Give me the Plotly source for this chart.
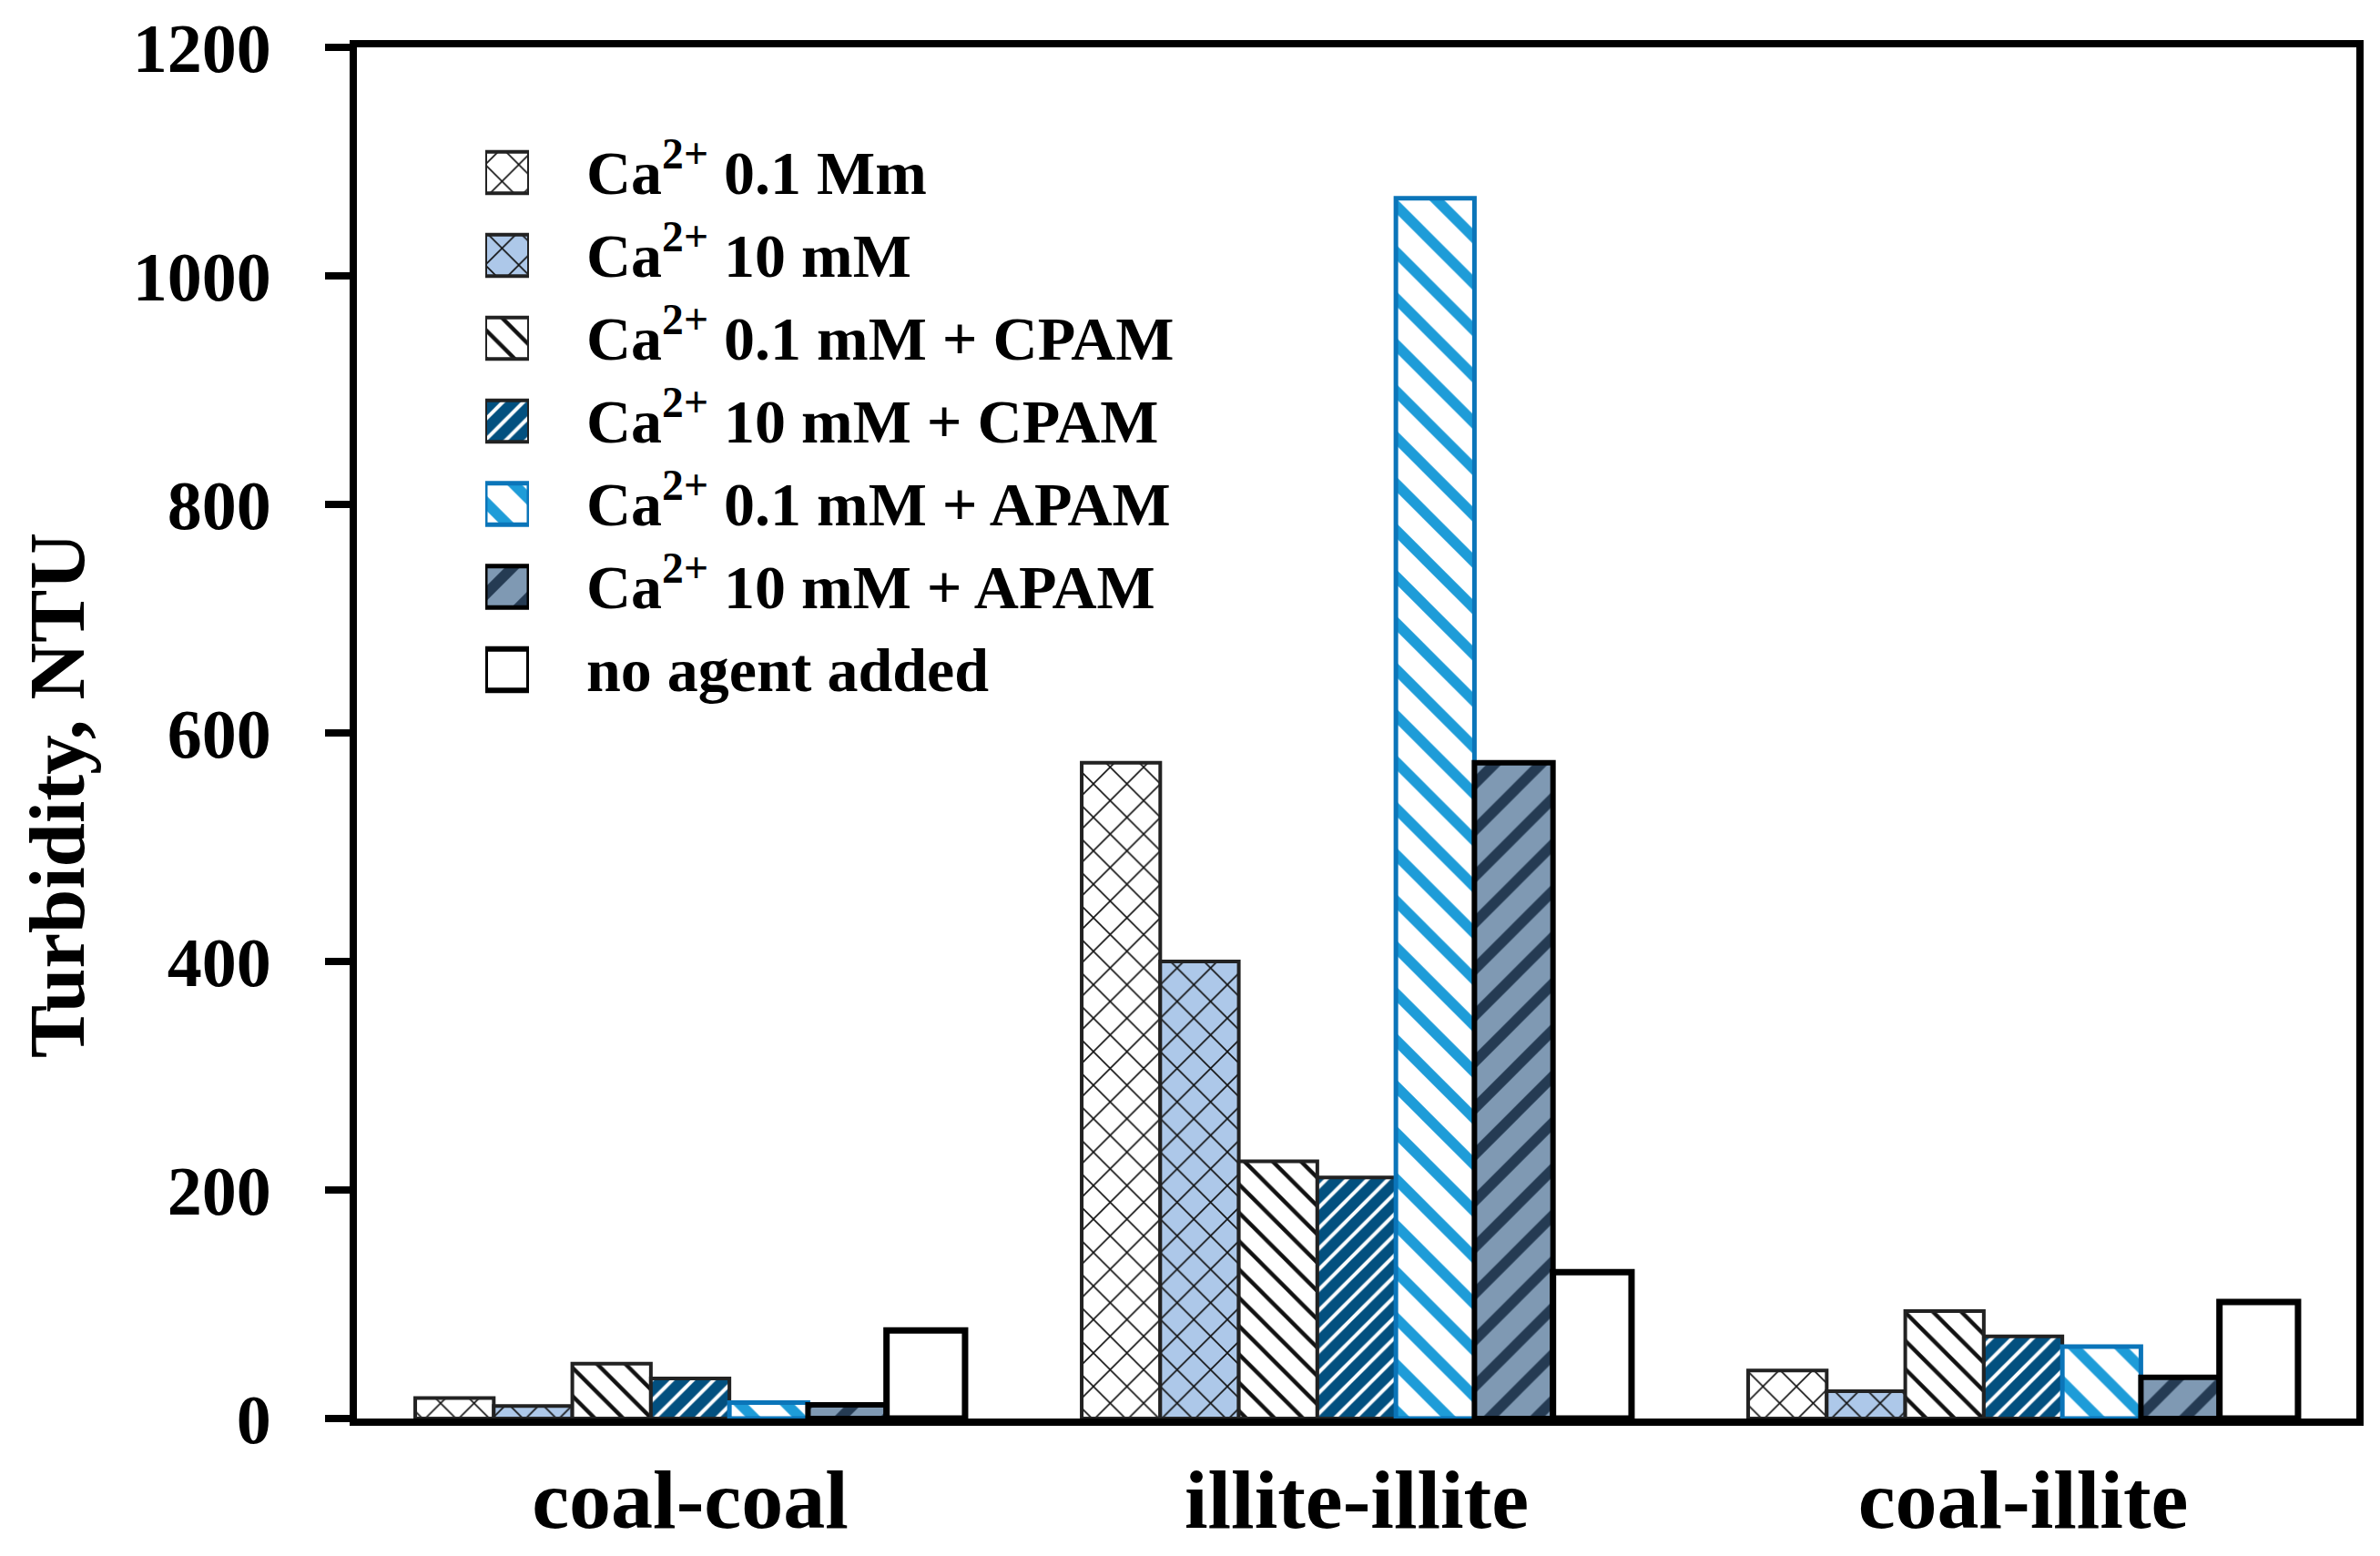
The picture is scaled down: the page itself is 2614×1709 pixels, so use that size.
import plotly.graph_objects as go

# target page geometry (pixels)
W, H = 2614, 1709
L, R, T, B = 392, 26, 52, 151
BODY = 8  # default page margin around the plot div

categories = ["coal-coal", "illite-illite", "coal-illite"]
series_names = [
    "Ca<sup>2+</sup> 0.1 Mm",
    "Ca<sup>2+</sup> 10 mM",
    "Ca<sup>2+</sup> 0.1 mM + CPAM",
    "Ca<sup>2+</sup> 10 mM + CPAM",
    "Ca<sup>2+</sup> 0.1 mM + APAM",
    "Ca<sup>2+</sup> 10 mM + APAM",
    "no agent added",
]
ca01 = [18, 574, 42]
ca10 = [11, 400, 24]
ca01_cpam = [48, 225, 94]
ca10_cpam = [35, 211, 72]
ca01_apam = [14, 1068, 63]
ca10_apam = [12, 574, 36]
no_agent = [77, 128, 102]
series_values = [ca01, ca10, ca01_cpam, ca10_cpam, ca01_apam, ca10_apam, no_agent]
y_ticks = [0, 200, 400, 600, 800, 1000, 1200]
y_title = "Turbidity, NTU"

styles = [
    dict(bg="white", fg="#111111", shape="x", size=26, sol=0.12, line="#222222", lw=4),
    dict(bg="#adc8e9", fg="#111111", shape="x", size=26, sol=0.12, line="#222222", lw=4),
    dict(bg="white", fg="#111111", shape="\\", size=22, sol=0.2, line="#222222", lw=4),
    dict(bg="#03507f", fg="white", shape="/", size=16, sol=0.25, line="#222222", lw=4),
    dict(bg="white", fg="#1e9cd8", shape="\\", size=36, sol=0.32, line="#0b75b9", lw=5),
    dict(bg="#7f99b3", fg="#253b53", shape="/", size=36, sol=0.32, line="#000000", lw=6),
    dict(bg="white", fg="white", shape="", size=10, sol=0.1, line="#000000", lw=7),
]

FONT = "Liberation Serif"

def marker_for(st, lw=None):
    return dict(
        color=st["bg"],
        line=dict(color=st["line"], width=st["lw"] if lw is None else lw),
        pattern=dict(shape=st["shape"], fgcolor=st["fg"], bgcolor=st["bg"],
                     size=st["size"], solidity=st["sol"], fillmode="replace"),
    )

fig = go.Figure()
for name, vals, st in zip(series_names, series_values, styles):
    fig.add_trace(go.Bar(
        x=categories, y=vals, name=name, marker=marker_for(st),
        showlegend=False, xaxis="x", yaxis="y",
    ))

# legend swatches drawn as bars on a hidden overlay axis, legend text as its tick labels
swatch_len = [1] * len(series_names)
for i, (name, st) in enumerate(zip(series_names, styles)):
    fig.add_trace(go.Bar(
        y=[name], x=[swatch_len[i]], orientation="h", width=0.5,
        marker=marker_for(st, lw=min(st["lw"], 5) if i < 6 else 6),
        showlegend=False, xaxis="x2", yaxis="y2", hoverinfo="skip",
    ))

pw = W - L - R
ph = H - T - B

# legend geometry (page pixels)
LX0, LX1 = 533, 581
LY0, LY1 = 144, 781
# y title centre (page pixels)
TX, TY = 63, 874

fig.update_layout(
    width=W - 2 * BODY, height=H - 2 * BODY,
    margin=dict(l=L - BODY, r=R - BODY, t=T - BODY, b=B - BODY, pad=0),
    paper_bgcolor="white", plot_bgcolor="white",
    font=dict(family=FONT, color="black", size=64, weight="bold"),
    barmode="group", bargap=0.175, bargroupgap=0,
    showlegend=False,
    xaxis=dict(
        domain=[0, 1],
        showline=True, linecolor="black", linewidth=8, mirror=True,
        ticks="", showgrid=False, zeroline=False, automargin=False,
        tickfont=dict(family=FONT, size=92, color="black", weight="bold"),
        ticklabelstandoff=2,
    ),
    yaxis=dict(
        domain=[0, 1],
        range=[0, 1200], tickvals=y_ticks, ticktext=[str(v) for v in y_ticks],
        showline=True, linecolor="black", linewidth=8, mirror=True,
        ticks="outside", ticklen=27, tickwidth=8, tickcolor="black",
        showgrid=False, zeroline=False, automargin=False,
        tickfont=dict(family=FONT, size=76, color="black", weight="bold"),
        ticklabelstandoff=44,
    ),
    xaxis2=dict(
        domain=[(LX0 - L) / pw, (LX1 - L) / pw], range=[0, 1],
        visible=False, fixedrange=True, anchor="y2",
    ),
    yaxis2=dict(
        domain=[(H - B - LY1) / ph, (H - B - LY0) / ph],
        range=[len(series_names) - 0.5, -0.5], type="category",
        categoryorder="array", categoryarray=series_names,
        anchor="x2", side="right", showline=False, ticks="",
        showgrid=False, zeroline=False, automargin=False,
        tickfont=dict(family=FONT, size=68, color="black", weight="bold"),
        ticklabelstandoff=62, fixedrange=True,
    ),
    annotations=[dict(
        text=y_title, textangle=-90, showarrow=False,
        xref="paper", yref="paper",
        x=(TX - L) / pw, y=(H - B - TY) / ph, xanchor="center", yanchor="middle",
        font=dict(family=FONT, size=87, color="black", weight="bold"),
    )],
)

fig.write_html("out.html")
